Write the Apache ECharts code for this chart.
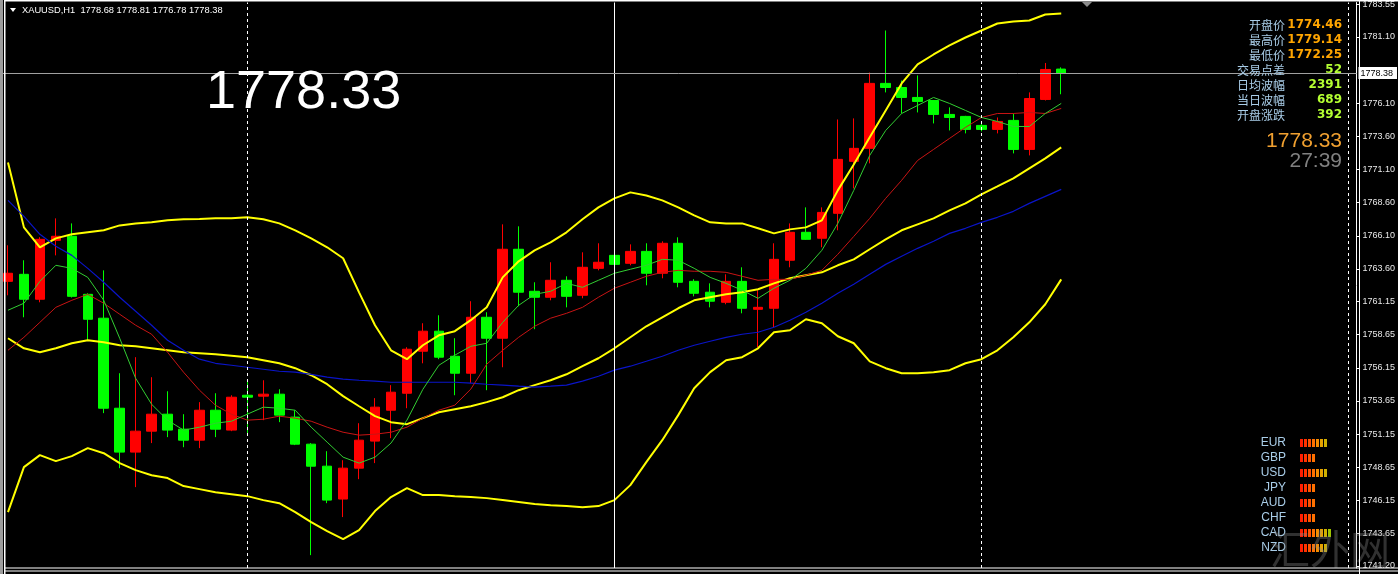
<!DOCTYPE html>
<html>
<head>
<meta charset="utf-8">
<title>XAUUSD,H1</title>
<script src="https://cdn.jsdelivr.net/npm/echarts@6.0.0/dist/echarts.min.js"></script>
<style>
html, body { margin: 0; padding: 0; background: #000; }
#chart { width: 1398px; height: 574px; }
</style>
</head>
<body>
<div id="chart"></div>
<script>
// K线 [开, 高, 低, 收]
const ohlc = [
  [1762.67, 1765.39, 1761.62, 1763.28], [1763.20, 1764.26, 1759.96, 1761.32],
  [1761.32, 1766.00, 1761.09, 1765.84], [1765.76, 1767.42, 1764.63, 1766.07],
  [1766.07, 1767.04, 1761.45, 1761.54], [1761.69, 1761.77, 1758.23, 1759.81],
  [1759.89, 1763.50, 1752.73, 1753.10], [1753.10, 1755.74, 1748.58, 1749.79],
  [1749.79, 1756.95, 1747.15, 1751.37], [1751.37, 1755.44, 1750.47, 1752.65],
  [1752.65, 1754.38, 1750.92, 1751.45], [1751.52, 1752.65, 1750.16, 1750.69],
  [1750.69, 1753.56, 1750.09, 1752.95], [1752.95, 1754.23, 1750.92, 1751.52],
  [1751.45, 1754.08, 1751.37, 1753.93], [1754.08, 1755.21, 1751.07, 1753.93],
  [1754.01, 1755.21, 1752.20, 1754.16], [1754.16, 1754.53, 1752.05, 1752.58],
  [1752.43, 1752.95, 1750.32, 1750.39], [1750.39, 1750.47, 1742.02, 1748.73],
  [1748.73, 1749.86, 1745.94, 1746.17], [1746.25, 1749.18, 1744.89, 1748.58],
  [1748.58, 1751.97, 1747.75, 1750.69], [1750.62, 1753.86, 1748.96, 1753.18],
  [1752.95, 1754.84, 1750.84, 1754.31], [1754.23, 1757.70, 1753.10, 1757.55],
  [1757.40, 1759.51, 1756.49, 1758.91], [1758.91, 1760.11, 1756.80, 1756.95],
  [1757.02, 1758.38, 1754.08, 1755.74], [1755.74, 1761.17, 1754.99, 1759.96],
  [1759.96, 1760.34, 1754.46, 1758.38], [1758.38, 1766.97, 1756.19, 1765.09],
  [1765.09, 1766.82, 1760.79, 1761.85], [1761.92, 1762.60, 1759.06, 1761.47],
  [1761.47, 1764.11, 1761.24, 1762.75], [1762.75, 1763.05, 1760.71, 1761.54],
  [1761.62, 1764.86, 1761.39, 1763.73], [1763.65, 1765.54, 1763.50, 1764.11],
  [1764.63, 1764.70, 1763.88, 1763.95], [1764.03, 1765.46, 1763.88, 1764.93],
  [1764.93, 1765.54, 1762.37, 1763.28], [1763.28, 1765.69, 1762.90, 1765.54],
  [1765.54, 1765.99, 1762.22, 1762.60], [1762.67, 1762.83, 1761.54, 1761.77],
  [1761.85, 1762.52, 1760.71, 1761.17], [1761.09, 1763.20, 1760.94, 1762.67],
  [1762.67, 1763.73, 1760.26, 1760.64], [1760.56, 1762.00, 1757.70, 1760.71],
  [1760.64, 1765.54, 1759.21, 1764.33], [1764.26, 1767.04, 1763.73, 1766.37],
  [1766.37, 1768.25, 1765.80, 1765.84], [1765.92, 1768.25, 1765.24, 1767.87],
  [1767.80, 1774.88, 1766.52, 1771.87], [1771.72, 1774.96, 1769.68, 1772.70],
  [1772.70, 1778.42, 1771.57, 1777.60], [1777.60, 1781.59, 1776.92, 1777.29],
  [1777.29, 1777.82, 1775.33, 1776.54], [1776.54, 1778.20, 1775.41, 1776.24],
  [1776.31, 1776.35, 1774.58, 1775.26], [1775.26, 1775.79, 1774.05, 1775.03],
  [1775.11, 1775.15, 1773.83, 1774.13], [1774.43, 1774.66, 1773.98, 1774.13],
  [1774.13, 1775.03, 1773.83, 1774.73], [1774.81, 1775.33, 1772.32, 1772.62],
  [1772.62, 1776.92, 1772.17, 1776.46], [1776.39, 1779.14, 1776.31, 1778.65],
  [1778.68, 1778.81, 1776.78, 1778.38]
];

// 布林带
const bbUpper = [1771.64, 1766.74, 1765.24, 1765.91, 1766.22, 1766.37, 1766.52, 1766.89, 1767.04, 1767.12,
  1767.27, 1767.35, 1767.38, 1767.42, 1767.42, 1767.50, 1767.35, 1767.04, 1766.52, 1765.91,
  1765.24, 1764.41, 1761.84, 1759.36, 1757.47, 1756.80, 1757.85, 1758.60, 1758.91, 1759.74,
  1760.71, 1762.97, 1764.18, 1765.01, 1765.61, 1766.37, 1767.35, 1768.25, 1768.93, 1769.38,
  1769.15, 1768.78, 1768.25, 1767.65, 1767.12, 1767.04, 1767.04, 1766.67, 1766.29, 1766.59,
  1766.74, 1767.27, 1769.53, 1771.49, 1773.53, 1775.56, 1777.60, 1779.03, 1779.78, 1780.46,
  1781.06, 1781.59, 1782.12, 1782.27, 1782.34, 1782.80, 1782.87];
const bbMid = [1758.38, 1757.62, 1757.32, 1757.62, 1758.00, 1758.23, 1758.08, 1757.85, 1757.77, 1757.62,
  1757.47, 1757.32, 1757.25, 1757.17, 1757.06, 1756.95, 1756.72, 1756.49, 1756.12, 1755.59,
  1754.91, 1754.01, 1753.25, 1752.50, 1752.05, 1751.90, 1752.35, 1752.80, 1753.03, 1753.25,
  1753.56, 1753.93, 1754.46, 1754.84, 1755.21, 1755.66, 1756.27, 1756.87, 1757.62, 1758.45,
  1759.28, 1759.96, 1760.64, 1761.24, 1761.47, 1761.69, 1761.84, 1762.07, 1762.52, 1762.90,
  1763.13, 1763.35, 1763.88, 1764.33, 1765.09, 1765.84, 1766.52, 1766.97, 1767.42, 1768.02,
  1768.55, 1769.23, 1769.83, 1770.44, 1771.19, 1771.94, 1772.77];
const bbLower = [1745.27, 1748.66, 1749.56, 1749.11, 1749.49, 1750.09, 1749.71, 1748.96, 1748.43, 1748.05,
  1747.83, 1747.23, 1747.00, 1746.77, 1746.62, 1746.47, 1746.17, 1745.94, 1745.27, 1744.51,
  1743.83, 1743.23, 1743.91, 1745.34, 1746.40, 1747.07, 1746.55, 1746.55, 1746.47, 1746.40,
  1746.32, 1746.17, 1746.02, 1745.87, 1745.79, 1745.72, 1745.64, 1745.72, 1746.17, 1747.30,
  1749.03, 1750.69, 1752.58, 1754.61, 1755.82, 1756.72, 1756.95, 1757.62, 1758.83, 1758.98,
  1759.81, 1759.51, 1758.53, 1758.00, 1756.64, 1756.12, 1755.74, 1755.74, 1755.82, 1755.97,
  1756.49, 1756.80, 1757.47, 1758.45, 1759.58, 1760.94, 1762.82];

// 均线
const maFast = [1760.49, 1761.02, 1762.67, 1763.88, 1763.65, 1762.97, 1761.24, 1758.38, 1755.36, 1753.40,
  1752.20, 1751.45, 1751.67, 1751.97, 1752.12, 1752.65, 1753.18, 1753.10, 1752.95, 1751.67,
  1750.54, 1749.41, 1748.96, 1749.41, 1750.47, 1752.20, 1754.53, 1756.34, 1757.10, 1757.77,
  1758.00, 1759.58, 1760.86, 1761.69, 1761.92, 1762.52, 1762.22, 1762.75, 1763.28, 1763.58,
  1763.88, 1764.33, 1764.26, 1763.65, 1762.97, 1762.52, 1762.00, 1761.39, 1762.15, 1762.75,
  1763.65, 1765.01, 1767.04, 1769.53, 1772.17, 1774.05, 1775.33, 1775.94, 1776.54, 1776.09,
  1775.56, 1775.03, 1774.73, 1774.35, 1774.35, 1775.33, 1776.09];
const maSlow = [1757.47, 1758.45, 1759.58, 1760.71, 1761.24, 1761.69, 1761.02, 1760.19, 1759.36, 1758.68,
  1757.32, 1755.82, 1754.46, 1753.33, 1752.65, 1752.20, 1752.27, 1752.50, 1752.35, 1752.12,
  1751.67, 1751.29, 1751.07, 1751.14, 1751.29, 1751.67, 1752.35, 1752.95, 1753.33, 1754.54,
  1756.42, 1757.47, 1758.45, 1759.28, 1759.89, 1760.26, 1760.71, 1761.47, 1762.15, 1762.60,
  1763.05, 1763.35, 1763.50, 1763.43, 1763.43, 1763.35, 1763.05, 1762.75, 1762.82, 1762.82,
  1763.13, 1763.50, 1764.71, 1766.06, 1767.42, 1768.93, 1770.29, 1771.79, 1772.62, 1773.45,
  1774.28, 1775.03, 1775.33, 1775.33, 1775.41, 1775.33, 1775.71];
const maLong = [1768.78, 1767.57, 1766.22, 1765.31, 1764.63, 1763.65, 1762.60, 1761.47, 1760.41, 1759.36,
  1758.23, 1757.47, 1756.80, 1756.49, 1756.34, 1756.19, 1756.04, 1755.89, 1755.82, 1755.66,
  1755.44, 1755.29, 1755.21, 1755.14, 1755.06, 1755.06, 1755.06, 1755.06, 1755.06, 1754.99,
  1754.91, 1754.84, 1754.76, 1754.69, 1754.76, 1754.84, 1755.14, 1755.51, 1755.97, 1756.27,
  1756.64, 1757.02, 1757.47, 1757.85, 1758.15, 1758.45, 1758.68, 1758.83, 1759.21, 1759.74,
  1760.34, 1761.02, 1761.77, 1762.45, 1763.20, 1763.95, 1764.56, 1765.16, 1765.69, 1766.29,
  1766.67, 1767.12, 1767.50, 1767.95, 1768.55, 1769.08, 1769.61];

// 价格轴刻度
const yTicks = [1783.55, 1781.10, 1776.10, 1773.60, 1771.10, 1768.60, 1766.10, 1763.60, 1761.15,
  1758.65, 1756.15, 1753.65, 1751.15, 1748.65, 1746.15, 1743.65, 1741.20];
const bidPrice = 1778.38;
const sepBars = [15, 38, 61, 84];   // 竖线所在K线序号

// 右上信息
const infoLabels = ['开盘价', '最高价', '最低价', '交易点差', '日均波幅', '当日波幅', '开盘涨跌'];
const infoValues = ['1774.46', '1779.14', '1772.25', '52', '2391', '689', '392'];
const bigPrice = '1778.33';
const countdown = '27:39';

// 货币强弱
const currencies = ['EUR', 'GBP', 'USD', 'JPY', 'AUD', 'CHF', 'CAD', 'NZD'];
const strength = [7, 4, 7, 4, 4, 4, 8, 7];
const segColors = ['#ff1e00', '#ff3300', '#ff5200', '#ff7000', '#f58c00', '#e6a200', '#cfb000', '#9fc400'];

const SLOTS = 85; // 右侧留白
const cats = [];
for (let i = 0; i < SLOTS; i++) cats.push(String(i + 1));

const chart = echarts.init(document.getElementById('chart'));

const lineSeries = (data, color, width) => ({
  type: 'line', data: data, showSymbol: false, symbol: 'none', smooth: false,
  lineStyle: { color: color, width: width }, silent: true, z: 3
});

const dashed = { color: '#ffffff', width: 1, type: [3, 3] };

const option = {
  backgroundColor: '#000',
  animation: false,
  grid: [
    { left: -1, top: 2, width: 1360, height: 566 },
    { left: 1300, top: 435.5, width: 40, height: 120 }
  ],
  xAxis: [
    { type: 'category', data: cats, gridIndex: 0, boundaryGap: true,
      axisLine: { show: false }, axisTick: { show: false }, axisLabel: { show: false }, splitLine: { show: false } },
    { type: 'value', gridIndex: 1, min: 0, max: 10, show: false }
  ],
  yAxis: [
    { type: 'value', gridIndex: 0, position: 'right', min: 1741.05, max: 1783.70, scale: true,
      axisLine: { show: true, lineStyle: { color: '#ffffff', width: 1 } },
      axisTick: { show: true, length: 3, customValues: yTicks, lineStyle: { color: '#ffffff' } },
      axisLabel: { customValues: yTicks, margin: 6, color: '#e8e8e8', fontSize: 9,
        fontFamily: 'Liberation Sans', formatter: v => v.toFixed(2) },
      splitLine: { show: false } },
    { type: 'category', gridIndex: 1, data: currencies, inverse: true,
      axisLine: { show: false }, axisTick: { show: false }, splitLine: { show: false },
      axisLabel: { interval: 0, color: '#a9cde8', fontSize: 12, fontFamily: 'Liberation Sans', margin: 14 } }
  ],
  series: [
    {
      type: 'candlestick',
      data: ohlc.map(d => [d[0], d[3], d[2], d[1]]),
      barWidth: 10,
      itemStyle: { color: '#ff0000', color0: '#00ff00', borderColor: '#ff0000', borderColor0: '#00ff00', borderWidth: 1 },
      silent: true,
      markLine: {
        silent: true, symbol: ['none', 'none'], animation: false,
        label: { show: false },
        data: sepBars.map(i => ({ xAxis: i, lineStyle: i === 38 ? { color: '#ffffff', width: 1, type: 'solid' } : dashed }))
          .concat([{ yAxis: bidPrice, lineStyle: { color: '#a0a0a0', width: 1, type: 'solid' },
            label: { show: true, position: 'end', distance: 2, formatter: bidPrice.toFixed(2),
              backgroundColor: '#ffffff', color: '#000000', fontSize: 9, fontFamily: 'Liberation Sans',
              padding: [2, 4, 1, 2] } }])
      }
    },
    lineSeries(bbUpper, '#ffff00', 2),
    lineSeries(bbMid, '#ffff00', 2),
    lineSeries(bbLower, '#ffff00', 2),
    lineSeries(maLong, '#0a14c8', 1.2),
    lineSeries(maSlow, '#c81414', 1),
    lineSeries(maFast, '#32cd32', 1),
    {
      type: 'custom', xAxisIndex: 1, yAxisIndex: 1, silent: true,
      data: strength.map((v, i) => [v, i]),
      renderItem: function (params, api) {
        const n = api.value(0), row = api.value(1);
        const children = [];
        for (let k = 0; k < n; k++) {
          const p = api.coord([k, row]);
          children.push({ type: 'rect', shape: { x: p[0], y: p[1] - 4, width: 3, height: 8 },
            style: { fill: segColors[k] } });
        }
        return { type: 'group', children: children };
      }
    }
  ],
  graphic: [
    // 边框
    { type: 'rect', z: 100, shape: { x: 0, y: 0, width: 3, height: 574 }, style: { fill: '#9c9c9c' } },
    { type: 'rect', z: 100, shape: { x: 4, y: 0, width: 1.5, height: 574 }, style: { fill: '#ffffff' } },
    { type: 'rect', z: 100, shape: { x: 4, y: 0, width: 1394, height: 1.5 }, style: { fill: '#ffffff' } },
    { type: 'rect', z: 100, shape: { x: 4, y: 567.5, width: 1394, height: 1 }, style: { fill: '#ffffff' } },
    { type: 'rect', z: 100, shape: { x: 4, y: 570.5, width: 1394, height: 1 }, style: { fill: '#ffffff' } },
    { type: 'rect', z: 100, shape: { x: 1359, y: 0, width: 1, height: 574 }, style: { fill: '#ffffff' } },
    { type: 'polygon', z: 100, shape: { points: [[1082, 2], [1092, 2], [1087, 7]] }, style: { fill: '#8c8c8c' } },
    // 标题
    { type: 'polygon', z: 100, shape: { points: [[10, 8], [16, 8], [13, 12]] }, style: { fill: '#ffffff' } },
    { type: 'text', z: 100, x: 22, y: 10, style: { text: 'XAUUSD,H1  1778.68 1778.81 1776.78 1778.38',
      fill: '#ffffff', font: '9.3px "Liberation Sans"', verticalAlign: 'middle' } },
    { type: 'text', z: 100, x: 206, y: 93, style: { text: bigPrice, fill: '#ffffff',
      font: '54px "Liberation Sans"', verticalAlign: 'middle' } },
    // 信息面板
    ...infoLabels.map((t, i) => ({ type: 'text', z: 100, x: 1285, y: 25 + i * 15,
      style: { text: t, fill: '#a9cde8', font: '12px "Noto Sans CJK SC"', align: 'right', verticalAlign: 'middle' } })),
    ...infoValues.map((t, i) => ({ type: 'text', z: 100, x: 1342, y: 25 + i * 15,
      style: { text: t, fill: i < 3 ? '#ffa500' : '#b4ff32', font: 'bold 12px "DejaVu Sans"', align: 'right', verticalAlign: 'middle' } })),
    { type: 'text', z: 100, x: 1342, y: 141, style: { text: bigPrice, fill: '#f0a030',
      font: '21px "Liberation Sans"', align: 'right', verticalAlign: 'middle' } },
    { type: 'text', z: 100, x: 1342, y: 161, style: { text: countdown, fill: '#808080',
      font: '21px "Liberation Sans"', align: 'right', verticalAlign: 'middle' } },
    // 水印
    { type: 'text', z: 90, x: 1330, y: 549, style: { text: '汇外网', fill: 'rgba(140,140,140,0.35)',
      font: '40px "Noto Sans CJK SC"', align: 'center', verticalAlign: 'middle' } }
  ]
};

chart.setOption(option);
window.addEventListener('resize', function () { chart.resize(); });
</script>
</body>
</html>
